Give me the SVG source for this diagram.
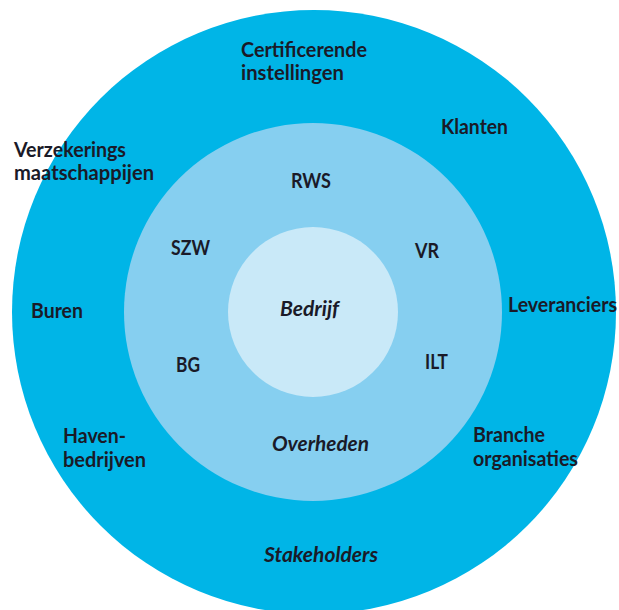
<svg xmlns="http://www.w3.org/2000/svg" width="619" height="610" viewBox="0 0 619 610">
<style>
text{font-family:Lato,"Open Sans","Liberation Sans",sans-serif;font-weight:bold;font-size:20px;fill:#1a1a28}
.i{font-style:italic}
</style>
<rect width="619" height="610" fill="#ffffff"/>
<g id="stakeholders">
<circle cx="314" cy="312" r="302" fill="#00b5e7"/>
<text x="264" y="562" class="i" textLength="114" lengthAdjust="spacingAndGlyphs">Stakeholders</text>
</g>
<g id="overheden">
<circle cx="313" cy="312" r="189" fill="#86cff0"/>
<text x="272" y="451" class="i" textLength="97" lengthAdjust="spacingAndGlyphs">Overheden</text>
</g>
<g id="bedrijf">
<circle cx="313" cy="312" r="85" fill="#c9e9f8"/>
<text x="280" y="316" class="i" textLength="59" lengthAdjust="spacingAndGlyphs">Bedrijf</text>
</g>
<g id="certificerende">
<text x="241" y="57" textLength="126" lengthAdjust="spacingAndGlyphs">Certificerende</text>
<text x="241" y="80" textLength="103" lengthAdjust="spacingAndGlyphs">instellingen</text>
</g>
<g id="klanten"><text x="441" y="134" textLength="67" lengthAdjust="spacingAndGlyphs">Klanten</text></g>
<g id="verzekerings">
<text x="14" y="157" textLength="112" lengthAdjust="spacingAndGlyphs">Verzekerings</text>
<text x="14" y="180" textLength="140" lengthAdjust="spacingAndGlyphs">maatschappijen</text>
</g>
<g id="buren"><text x="31" y="318" textLength="52" lengthAdjust="spacingAndGlyphs">Buren</text></g>
<g id="leveranciers"><text x="508" y="312" textLength="109" lengthAdjust="spacingAndGlyphs">Leveranciers</text></g>
<g id="havenbedrijven">
<text x="63" y="443" textLength="63" lengthAdjust="spacingAndGlyphs">Haven-</text>
<text x="63" y="467" textLength="83" lengthAdjust="spacingAndGlyphs">bedrijven</text>
</g>
<g id="branche">
<text x="473" y="442" textLength="72" lengthAdjust="spacingAndGlyphs">Branche</text>
<text x="473" y="466" textLength="105" lengthAdjust="spacingAndGlyphs">organisaties</text>
</g>
<g id="rws"><text x="291" y="188" textLength="40" lengthAdjust="spacingAndGlyphs">RWS</text></g>
<g id="szw"><text x="171" y="255" textLength="39" lengthAdjust="spacingAndGlyphs">SZW</text></g>
<g id="vr"><text x="415" y="258" textLength="24" lengthAdjust="spacingAndGlyphs">VR</text></g>
<g id="bg"><text x="176" y="372" textLength="24" lengthAdjust="spacingAndGlyphs">BG</text></g>
<g id="ilt"><text x="425" y="369" textLength="23" lengthAdjust="spacingAndGlyphs">ILT</text></g>
<g id="connectors"></g>
</svg>
